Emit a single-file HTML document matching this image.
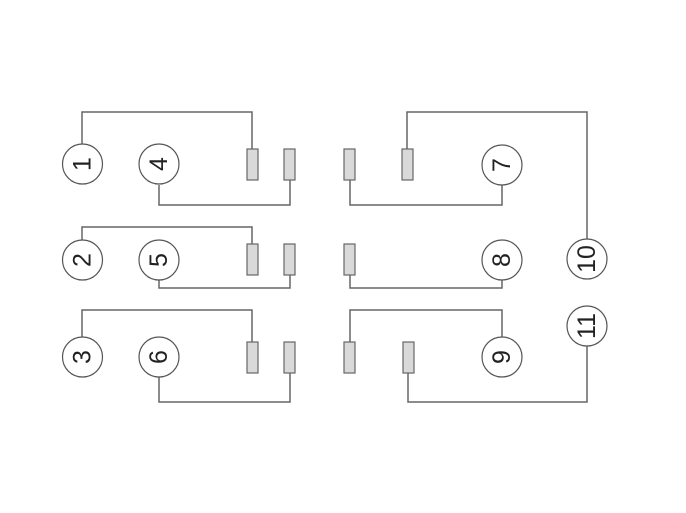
<!DOCTYPE html>
<html><head><meta charset="utf-8"><style>html,body{margin:0;padding:0;background:#fff}</style></head>
<body>
<svg width="686" height="508" xmlns="http://www.w3.org/2000/svg">
<g fill="none" stroke="#666" stroke-width="1.5">
<polyline points="82,144 82,112 252,112 252,149"/>
<polyline points="159,185 159,205 290,205 290,180"/>
<polyline points="82,240 82,227 252,227 252,244"/>
<polyline points="159,280 159,288 290,288 290,275"/>
<polyline points="82,337 82,310 252,310 252,342"/>
<polyline points="159,377 159,402 290,402 290,373"/>
<polyline points="407,149 407,112 587,112 587,239"/>
<polyline points="350,180 350,205 502,205 502,185"/>
<polyline points="350,275 350,288 502,288 502,280"/>
<polyline points="350,342 350,310 502,310 502,337"/>
<polyline points="408,373 408,402 587,402 587,346"/>
</g>
<g fill="#d9d9d9" stroke="#666" stroke-width="1.2">
<rect x="247" y="149" width="11" height="31"/><rect x="284" y="149" width="11" height="31"/>
<rect x="247" y="244" width="11" height="31"/><rect x="284" y="244" width="11" height="31"/>
<rect x="247" y="342" width="11" height="31"/><rect x="284" y="342" width="11" height="31"/>
<rect x="344" y="149" width="11" height="31"/><rect x="402" y="149" width="11" height="31"/>
<rect x="344" y="244" width="11" height="31"/>
<rect x="344" y="342" width="11" height="31"/><rect x="403" y="342" width="11" height="31"/>
</g>
<g fill="#fff" stroke="#555" stroke-width="1.2">
<circle cx="82.5" cy="164" r="20"/><circle cx="159" cy="164" r="20"/>
<circle cx="82.5" cy="260" r="20"/><circle cx="159" cy="260" r="20"/>
<circle cx="82.5" cy="357" r="20"/><circle cx="159" cy="357" r="20"/>
<circle cx="502" cy="165" r="20"/><circle cx="502" cy="260" r="20"/><circle cx="502" cy="357" r="20"/>
<circle cx="587" cy="259" r="20"/><circle cx="587" cy="326" r="20"/>
</g>
<g font-family="Liberation Sans, sans-serif" font-size="25" fill="#222" text-anchor="middle" dominant-baseline="central">
<text transform="translate(82.5,164) rotate(-90)">1</text>
<text transform="translate(159,164) rotate(-90)">4</text>
<text transform="translate(82.5,260) rotate(-90)">2</text>
<text transform="translate(159,260) rotate(-90)">5</text>
<text transform="translate(82.5,357) rotate(-90)">3</text>
<text transform="translate(159,357) rotate(-90)">6</text>
<text transform="translate(502,165) rotate(-90)">7</text>
<text transform="translate(502,260) rotate(-90)">8</text>
<text transform="translate(502,357) rotate(-90)">9</text>
<text transform="translate(587,259) rotate(-90)">10</text>
<text transform="translate(587,326) rotate(-90)">11</text>
</g>
</svg>
</body></html>
